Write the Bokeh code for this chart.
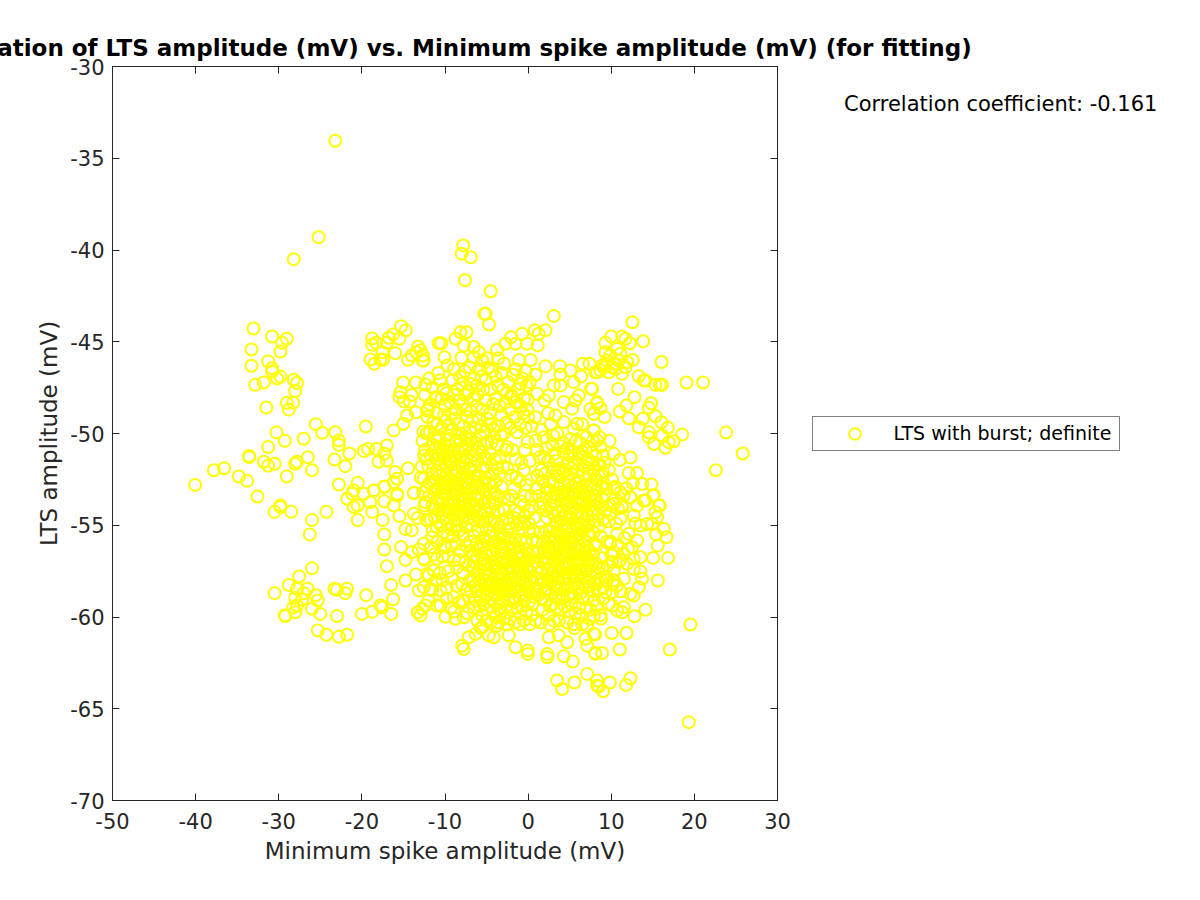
from bokeh.plotting import figure
from bokeh.models import LinearAxis, Label, Legend, LegendItem, FixedTicker, Range1d
from bokeh.embed import file_html
from bokeh.resources import INLINE

TITLE = "Correlation of LTS amplitude (mV) vs. Minimum spike amplitude (mV) (for fitting)"
X_LABEL = "Minimum spike amplitude (mV)"
Y_LABEL = "LTS amplitude (mV)"
CORR_TEXT = "Correlation coefficient: -0.161"
LEGEND_TEXT = "LTS with burst; definite"
X_TICKS = [-50, -40, -30, -20, -10, 0, 10, 20, 30]
Y_TICKS = [-70, -65, -60, -55, -50, -45, -40, -35, -30]

far_points = [(-23.2,-34.05),(-25.2,-39.3),(-28.2,-40.5),(-7.8,-39.75),(-8,-40.2),(-6.9,-40.4),(-7.6,-41.65),(-4.5,-42.25)]

upper_left = [(-33.04,-44.28),(-30.79,-44.71),(-29.03,-44.84),(-29.6,-45.06),(-29.8,-45.53),(-33.28,-45.42),(-33.28,-46.31),(-31.27,-46.07),(-30.8,-46.44),(-30.8,-46.62),(-30.2,-47.0),(-29.8,-46.9),(-32.84,-47.35),(-31.8,-47.22),(-28.2,-47.07),(-27.8,-47.25),(-28.03,-47.69),(-29.03,-48.33),(-28.27,-48.33),(-28.8,-48.7),(-31.5,-48.58),(-25.54,-49.49),(-24.78,-49.96),(-23.2,-49.93),(-22.77,-50.38),(-22.77,-50.62),(-19.53,-49.62),(-30.27,-49.94),(-29.27,-50.4),(-27.0,-50.29),(-31.27,-50.74),(-21.5,-51.09),(-33.56,-51.23),(-33.56,-51.29),(-31.8,-51.54),(-31.27,-51.76),(-30.5,-51.65),(-26.5,-51.3),(-27.8,-51.54),(-28.03,-51.65),(-23.3,-51.42),(-22.0,-51.78),(-26.0,-52.0),(-19.77,-50.96),(-19.25,-50.85),(-18.24,-50.85),(-37.8,-52.0),(-36.57,-51.89),(-34.8,-52.34),(-33.8,-52.58),(-40.06,-52.8),(-29.03,-52.34),(-22.77,-52.78),(-20.5,-52.69),(-32.56,-53.43)]

upper_left_cluster = [(-18.76,-44.82),(-18.76,-45.17),(-18.28,-45.06),(-17,-45.06),(-16.24,-44.6),(-16.76,-44.78),(-15.28,-44.15),(-14.72,-44.38),(-15.48,-44.84),(-17.52,-45.57),(-16,-45.62),(-18.96,-45.97),(-18.48,-46.2),(-17.76,-45.97),(-17.44,-45.98),(-14.44,-45.98),(-14,-45.75),(-13.23,-45.26),(-13.43,-45.57),(-12.67,-45.75),(-12.67,-46.02),(-10.75,-45.08),(-15.04,-47.22),(-13.5,-47.22),(-12.35,-47.33),(-15.48,-48.02),(-15.35,-47.75),(-14,-47.9),(-14.95,-48.25),(-14.23,-48.25),(-12,-48.65),(-10.95,-48.02),(-14.55,-49.02),(-13.5,-48.84),(-16.16,-49.83),(-15,-49.47),(-17,-50.65),(-17.3,-51.1),(-17,-51.47),(-18,-51.54),(-14.44,-51.89),(-16,-52.1),(-15.75,-52.47),(-16.16,-52.65),(-12.55,-52.47),(-13.75,-53.25),(-17.3,-52.89),(-18.56,-53.1),(-15.75,-53.29)]

lower_left = [(-29.8,-53.92),(-29.8,-54.01),(-30.5,-54.27),(-28.5,-54.27),(-24.26,-54.27),(-26,-54.72),(-26.26,-55.5),(-26,-57.34),(-27.55,-57.79),(-28.8,-58.25),(-30.5,-58.7),(-27.8,-58.46),(-26.54,-58.46),(-27,-58.7),(-25.54,-58.81),(-25.3,-59.1),(-28.03,-58.95),(-27.2,-59.06),(-27.8,-59.37),(-28.27,-59.48),(-26,-59.55),(-28,-59.74),(-25,-59.83),(-29.2,-59.95),(-29.27,-59.92),(-23.3,-58.46),(-23,-58.52),(-21.77,-58.46),(-22,-58.7),(-19.48,-58.81),(-23,-59.95),(-20,-59.83),(-18.76,-59.72),(-17.76,-59.37),(-17.56,-59.48),(-16.24,-59.03),(-16.48,-59.83),(-16.48,-58.25),(-25.3,-60.73),(-24.26,-60.97),(-22.77,-61.08),(-21.77,-60.97),(-17,-57.23),(-14.75,-58.01),(-13.5,-57.68),(-17.3,-56.32),(-17.3,-55.5),(-15.28,-56.19),(-14.75,-56.88),(-14,-56.47),(-13.15,-56.32),(-12.47,-56.88),(-17.5,-54.72),(-20.5,-54.72),(-18.76,-54.27),(-21,-54),(-20.5,-53.92),(-21.77,-53.56),(-21.17,-53.29),(-21,-53.1),(-19.77,-53.29),(-19,-53.74),(-18.5,-53.1),(-17.3,-53.69),(-17.3,-52.92),(-16.16,-53.92),(-15.75,-53.38),(-15.48,-54.5),(-13.75,-53.23),(-12.47,-53.92),(-13.75,-54.38),(-13.27,-54.6),(-12.23,-54.7),(-14.75,-55.2),(-14,-55.28),(-13.15,-58.55),(-12.55,-58.37),(-11.55,-58.55),(-12,-59.1),(-13.27,-59.74),(-12.75,-59.55),(-10.95,-59.37),(-11.95,-57.74),(-11.35,-57.47),(-10.95,-56.83),(-11.55,-55.65),(-12.55,-56)]

upper_center = [(-5.1,-43.48),(-5.25,-43.48),(-4.7,-44.06),(3.09,-43.59),(-10.46,-45.08),(-7.42,-44.48),(-8.14,-44.48),(-8.74,-44.84),(-7.74,-45.2),(-6.53,-45.29),(-5.93,-45.57),(-8.02,-45.87),(-10.06,-45.84),(-6.53,-45.84),(-5.53,-46.02),(-3.73,-45.44),(-2.04,-44.75),(-0.72,-44.57),(0.8,-44.38),(2.09,-44.38),(1.28,-44.57),(1.16,-45.2),(-2.73,-45.11),(-1.52,-45.11),(-0.12,-45.11),(2.09,-46.33),(3.81,-46.33),(3.89,-46.78),(5.09,-46.56),(6.58,-46.2),(7.38,-46.2),(6.38,-46.89),(8.1,-46.66),(8.7,-46.56),(7.58,-47.56),(5.49,-47.2),(3.09,-47.38),(3.89,-47.38),(1.08,-47.84),(-0.04,-48.15),(1.97,-48.2),(2.49,-47.93),(4.29,-48.29),(5.69,-48.2),(6.1,-47.93),(5.29,-48.65),(8.3,-48.29),(7.5,-48.65),(7.9,-48.93),(3.29,-49.02),(4.29,-49.38),(0.88,-49.11),(5.9,-49.47),(5.49,-49.74),(7.9,-49.83),(-0.04,-50.47),(-1.32,-49.93),(-2.53,-50.74),(7.3,-50.74),(7.7,-51.02),(-12.15,-48.74),(-11.15,-48.02),(-12.95,-45.47),(-12.55,-46.02)]

upper_right = [(12.55,-43.94),(13.84,-44.97),(9.99,-44.72),(11.31,-44.72),(11.71,-44.84),(12.23,-45.08),(9.3,-45.06),(12.59,-45.99),(16.04,-46.1),(13.31,-46.88),(13.92,-47.11),(14.12,-47.11),(15.32,-47.35),(15.84,-47.35),(16.12,-47.35),(19.05,-47.22),(21.05,-47.22),(10.83,-47.57),(12.79,-48.02),(11.83,-48.48),(11.03,-48.8),(12.11,-49.17),(14.8,-48.35),(14.52,-48.6),(15.32,-49.06),(13.8,-49.2),(13.31,-49.66),(16.04,-49.39),(16.8,-49.69),(18.53,-50.06),(17.52,-50.42),(23.82,-49.95),(25.82,-51.09),(22.58,-52),(14.52,-49.93),(14.52,-50.2),(15.12,-50.57),(16.12,-50.11),(16.52,-50.78),(16.92,-50.48),(10.31,-51.11),(11.03,-51.44),(12.31,-51.31),(12.11,-52.15),(13.11,-52.15),(13.72,-52.75),(14.84,-52.78),(15.12,-53.35),(13.92,-53.65),(15.72,-53.93),(11.51,-53.38),(12.31,-53.47),(10.51,-53.56),(11.31,-54.02),(13.11,-53.93),(8.7,-48.62),(8.3,-48.35),(7.9,-48.93),(7.7,-47.57),(7.9,-49.84),(8.3,-50.38),(8.7,-50.71),(9.02,-51.2),(9.3,-45.57),(10.7,-45.39),(9.9,-45.75),(11.11,-45.66),(9.1,-46.39),(9.7,-46.66),(10.31,-46.2),(10.51,-46.48),(11.31,-46.75),(11.71,-46.39),(8.3,-46.66),(10.91,-46.02),(9.5,-46.02),(10.11,-46.39),(8.9,-46.3),(11.91,-46.1)]

lower_right = [(15.04,-53.38),(15.84,-53.93),(15.32,-54.29),(15.52,-54.56),(16.32,-55.2),(16.64,-55.65),(15.4,-55.51),(15.6,-56.11),(15.04,-56.78),(16.84,-56.78),(15.6,-58.01),(13.51,-57.52),(13.71,-57.92),(13.31,-58.38),(12.71,-58.83),(14.12,-59.6),(12.79,-59.96),(19.53,-60.41),(17.04,-61.77),(11.83,-60.87),(10.07,-60.87),(8.06,-60.96),(11.03,-61.77),(8.9,-61.96),(8.06,-61.96),(12.31,-63.34),(11.79,-63.7),(9.83,-63.57),(8.3,-63.46),(9.02,-64.05),(8.5,-63.79),(19.33,-65.73),(11.31,-59.74),(10.71,-59.65),(10.11,-59.38),(11.51,-59.47),(8.78,-60.1),(7.9,-59.92),(12.31,-58.74),(10.11,-58.65),(9.3,-58.65),(11.51,-57.92),(10.31,-58.0),(12.71,-57.38),(13.51,-56.74),(12.71,-56.83),(11.51,-56.56),(10.31,-56.47),(9.9,-56.02),(10.91,-57),(10.31,-57.47),(8.7,-57.92),(13.11,-55.83),(12.51,-56.2),(10.71,-55.47),(12.11,-55.47),(13.51,-55.02),(14.32,-54.93),(14.92,-54.93),(12.71,-54.47),(11.11,-54.65),(9.9,-54.38),(11.31,-53.93),(10.31,-53.84),(12.31,-53.47),(14.12,-53.65)]

lower_center = [(-7.94,-61.56),(-7.74,-61.74),(-7.14,-61.1),(-6.33,-60.92),(-5.53,-60.56),(-9.94,-59.98),(-8.74,-60.1),(-3.73,-60.47),(-4.13,-61.1),(-4.73,-61),(-2.33,-61),(-1.52,-61.65),(-0.04,-61.83),(-0.04,-62.01),(2.29,-62.01),(2.29,-62.19),(4.29,-62.14),(5.37,-62.43),(4.69,-61.38),(3.69,-61),(2.49,-61.1),(5.57,-60.61),(6.9,-61.19),(7.1,-61.56),(7.9,-60.92),(8.1,-62),(7.1,-63.1),(5.57,-63.57),(3.49,-63.46),(4.09,-63.92),(8.3,-63.74),(-12.95,-59.92),(-12.35,-59.38),(-10.54,-59.38),(-7.74,-60.01),(-11.75,-58.47),(-12.15,-57.65),(-12.55,-56.83),(-10.54,-58.56),(-8.94,-58.92),(-7.94,-58.2),(-7.14,-58.92),(-6.33,-58.29),(-12.35,-53.75),(-12.15,-54.74),(-10.54,-53.84),(-9.74,-54.2),(-10.14,-55.38)]

core_left = [(-11.9,-47.0),(-10.8,-46.7),(-9.7,-46.3),(-9.1,-47.1),(-10.2,-47.6),(-11.4,-49.4),(-12.6,-49.9),(-11.2,-50.2),(-10.1,-49.0),(-9.4,-48.3),(-8.5,-47.6),(-7.6,-46.6),(-6.9,-47.3),(-7.9,-48.4),(-8.8,-49.2),(-9.7,-50.1),(-10.6,-50.8),(-11.7,-51.2),(-12.4,-50.9),(-12.8,-51.8),(-11.6,-52.2),(-10.5,-51.7),(-9.6,-51.0),(-8.7,-50.4),(-7.8,-49.6),(-6.9,-48.8),(-6.1,-47.9),(-5.5,-48.7),(-6.3,-49.7),(-7.2,-50.6),(-8.1,-51.3),(-9.2,-52.0),(-10.2,-52.7),(-11.2,-53.1),(-9.9,-53.4),(-8.9,-52.8),(-7.9,-52.2),(-6.9,-51.5),(-6.0,-50.8),(-5.2,-49.9),(-4.6,-48.9),(-5.1,-47.1),(-4.3,-46.6),(-3.6,-47.4),(-3.9,-48.1),(-3.2,-49.0),(-4.1,-50.2),(-5.0,-51.4),(-5.9,-52.3),(-6.8,-53.0),(-7.8,-53.6),(-8.8,-54.2),(-9.6,-54.9),(-8.3,-55.3),(-7.2,-54.6),(-6.2,-53.9),(-5.3,-53.1),(-4.3,-52.2),(-3.4,-51.3),(-2.5,-51.9),(-3.2,-52.9),(-4.1,-53.8),(-5.0,-54.6),(-6.0,-55.3),(-7.0,-55.9),(-8.1,-56.4),(-9.2,-56.1),(-10.3,-56.7),(-11.2,-54.6),(-11.7,-56.2),(-10.6,-57.6),(-9.6,-57.5),(-8.6,-57.3),(-7.5,-57.0),(-6.6,-56.7),(-5.6,-56.2),(-4.6,-55.6),(-3.7,-54.9),(-2.8,-54.2),(-2.0,-53.4),(-1.4,-52.4),(-2.6,-47.8),(-1.8,-46.8),(-2.9,-46.2),(-3.6,-45.9),(-1.1,-46.0),(-0.3,-46.6),(-1.2,-47.6),(-2.2,-48.7),(-1.6,-49.1),(-0.6,-48.9),(-0.2,-47.4)]

core_center = [(-6.1,-57.7),(-5.2,-57.2),(-4.3,-56.6),(-3.4,-56.0),(-2.5,-55.3),(-1.7,-54.6),(-0.9,-53.7),(-0.2,-52.8),(-0.8,-51.6),(-1.9,-50.9),(0.2,-51.5),(0.9,-50.4),(1.6,-49.8),(2.4,-48.9),(2.9,-50.6),(1.9,-51.3),(1.1,-52.3),(0.4,-53.4),(-0.4,-54.5),(-1.2,-55.4),(-2.1,-56.3),(-3.0,-57.0),(-3.9,-57.7),(-4.8,-58.3),(-5.7,-58.9),(-6.5,-59.5),(-5.5,-59.9),(-4.6,-59.4),(-3.7,-58.8),(-2.8,-58.1),(-1.9,-57.5),(-1.0,-56.7),(-0.2,-55.9),(0.6,-55.3),(-0.5,-57.6),(-1.4,-58.4),(-2.3,-59.1),(-3.2,-59.7),(-2.2,-60.1),(-1.3,-59.5),(-0.4,-58.8),(0.4,-58.1),(1.2,-57.3),(1.9,-56.5),(2.7,-55.7),(1.4,-55.4),(2.3,-54.6),(3.2,-53.7),(3.9,-52.8),(2.6,-52.6),(3.4,-51.5),(4.2,-50.5),(5.0,-51.2),(4.6,-52.0),(5.4,-52.9),(4.7,-53.9),(3.9,-54.8),(3.2,-55.6),(2.4,-56.4),(1.6,-58.0),(0.7,-58.9),(-0.2,-59.7),(0.9,-60.2),(1.8,-59.6),(2.7,-58.8),(3.5,-58.1),(4.2,-57.3),(4.9,-56.5),(5.6,-55.7),(6.3,-54.9),(6.9,-54.0),(6.1,-53.2),(6.7,-52.2),(7.3,-51.9),(5.8,-50.4),(6.5,-49.5)]

core_right = [(3.1,-56.9),(3.8,-56.1),(4.5,-55.3),(5.2,-54.6),(5.9,-56.6),(6.6,-55.8),(7.3,-55.0),(7.9,-54.2),(8.3,-53.1),(7.6,-52.8),(8.9,-52.3),(9.4,-53.0),(8.7,-54.0),(8.0,-56.0),(7.2,-56.9),(6.4,-57.6),(5.6,-58.2),(4.8,-58.9),(4.0,-59.6),(3.1,-60.2),(5.7,-59.8),(6.6,-59.0),(7.4,-58.3),(8.1,-57.6),(8.9,-56.8),(9.4,-57.8),(9.0,-59.0),(8.2,-59.4),(7.4,-60.1),(6.5,-60.4),(4.7,-60.3),(2.4,-59.9),(3.3,-58.9),(4.1,-57.9),(5.0,-57.2),(5.8,-57.1),(3.5,-55.4),(4.2,-56.7),(2.9,-57.6),(2.0,-58.5),(6.0,-55.2),(6.8,-56.5),(5.3,-55.9),(4.5,-54.4),(3.7,-53.0),(2.2,-53.5),(1.4,-54.0),(0.7,-54.6),(-0.1,-56.9),(0.5,-56.4),(9.8,-50.4),(9.2,-49.1),(9.7,-52.0),(8.6,-51.7),(6.5,-51.0),(7.9,-53.0),(6.0,-52.0),(9.5,-55.9),(8.5,-55.1),(10.1,-57.0)]

dense_a = [(-12.1,-49.1),(-11.0,-48.9),(-9.9,-49.3),(-8.6,-48.7),(-7.3,-49.1),(-6.2,-48.5),(-12.7,-50.4),(-11.8,-49.9),(-10.7,-50.2),(-9.2,-49.8),(-8.2,-50.0),(-7.0,-49.9),(-5.8,-50.1),(-4.9,-50.5),(-12.2,-51.4),(-11.1,-50.8),(-10.0,-50.6),(-9.0,-51.2),(-8.0,-50.8),(-6.7,-50.9),(-5.6,-51.0),(-4.5,-51.1),(-12.9,-52.4),(-12.0,-51.8),(-11.0,-51.4),(-10.1,-51.3),(-9.4,-51.6),(-8.4,-51.7),(-7.4,-51.3),(-6.4,-51.8),(-5.4,-51.9),(-4.4,-51.7),(-3.7,-51.9),(-12.2,-52.9),(-11.4,-52.6),(-10.7,-52.3),(-9.8,-52.2),(-8.9,-52.3),(-8.2,-52.5),(-7.3,-52.4),(-6.5,-52.6),(-5.5,-52.7),(-4.7,-52.7),(-3.9,-52.6),(-11.9,-53.4),(-10.9,-53.6),(-10.4,-53.2),(-9.5,-52.9),(-8.5,-53.2),(-7.6,-53.0),(-7.0,-53.4),(-6.0,-53.3),(-5.0,-53.5),(-4.5,-53.2),(-3.6,-53.4),(-11.3,-54.1),(-10.1,-54.6),(-9.3,-53.8),(-8.4,-53.9),(-7.4,-54.1),(-6.6,-54.2),(-5.6,-54.4),(-4.6,-54.1),(-3.6,-54.2),(-2.9,-53.5),(-11.0,-55.1),(-9.7,-55.6),(-8.9,-54.7),(-7.9,-54.8),(-6.8,-55.0),(-5.8,-54.8),(-5.0,-55.2),(-4.1,-54.8),(-3.1,-54.7),(-9.0,-55.6),(-7.8,-55.6),(-6.5,-55.6),(-5.4,-55.7),(-4.2,-55.3),(-3.3,-55.5),(-10.4,-48.1),(-8.9,-47.9),(-7.6,-47.9),(-6.5,-47.0),(-5.4,-47.6),(-4.5,-47.6),(-8.2,-46.9),(-7.0,-46.4),(-5.9,-46.5),(-4.9,-45.9),(-4.1,-49.8),(-3.3,-50.1),(-2.6,-49.4),(-5.1,-48.2),(-3.0,-47.6),(-2.0,-47.9),(-0.9,-47.3),(-1.5,-48.3),(-0.5,-48.1),(0.3,-46.0),(0.9,-46.8),(0.4,-49.6),(-0.3,-49.7)]

dense_b = [(-7.0,-56.4),(-6.0,-56.3),(-5.1,-56.5),(-4.2,-56.1),(-3.3,-56.6),(-2.5,-56.1),(-1.6,-55.8),(-0.7,-55.2),(0.1,-54.9),(-6.7,-57.3),(-5.7,-57.1),(-4.7,-57.0),(-3.8,-56.9),(-2.9,-56.5),(-2.0,-56.8),(-1.1,-56.2),(-0.3,-56.3),(0.5,-55.8),(-7.0,-58.0),(-6.4,-58.3),(-5.5,-57.9),(-4.6,-57.7),(-3.5,-57.3),(-2.6,-57.4),(-1.7,-57.0),(-0.8,-57.1),(0.1,-56.6),(0.8,-57.0),(-6.9,-58.6),(-6.0,-58.6),(-5.2,-58.5),(-4.3,-58.1),(-3.4,-58.0),(-2.4,-57.9),(-1.5,-57.8),(-0.6,-58.1),(0.2,-57.5),(1.1,-57.9),(-6.3,-59.1),(-5.4,-59.3),(-4.9,-58.8),(-4.0,-58.8),(-3.1,-58.5),(-2.1,-58.6),(-1.1,-58.9),(-0.1,-58.4),(0.9,-58.4),(-4.2,-59.7),(-3.4,-59.2),(-2.6,-59.4),(-1.7,-59.2),(-0.8,-59.4),(0.1,-59.2),(-5.0,-60.2),(-3.9,-60.0),(-2.9,-60.1),(-1.6,-60.3),(-0.5,-60.2),(0.4,-59.9),(-6.1,-60.2),(-7.3,-59.8),(-8.3,-59.2),(-9.3,-59.5),(-8.6,-58.3),(-9.8,-58.4),(-7.8,-57.6),(-8.9,-56.9),(-9.9,-56.2),(-2.4,-55.7),(-1.4,-55.0),(-0.5,-54.9),(-2.3,-54.9),(-1.1,-54.3),(-2.4,-53.6),(-1.7,-53.0),(-1.0,-52.6),(-2.0,-52.3),(-3.0,-51.8),(-0.4,-53.4),(0.3,-52.5),(-0.5,-52.0),(-1.5,-51.4),(-0.4,-50.9)]

dense_c = [(1.0,-53.0),(1.8,-52.6),(2.7,-53.1),(3.5,-52.3),(4.4,-52.8),(5.2,-52.2),(6.1,-52.6),(7.0,-52.5),(7.9,-52.0),(8.8,-52.9),(1.7,-53.8),(2.7,-53.9),(3.5,-53.4),(4.3,-53.6),(5.2,-53.4),(6.0,-53.8),(6.8,-53.3),(7.6,-53.6),(8.4,-53.8),(9.3,-54.2),(2.9,-54.3),(3.7,-54.3),(4.6,-54.9),(5.5,-54.1),(6.4,-54.4),(7.2,-54.5),(8.0,-54.8),(8.7,-55.6),(2.2,-55.3),(3.0,-55.1),(3.9,-55.5),(4.9,-55.1),(5.7,-55.0),(6.6,-55.3),(7.5,-55.6),(1.8,-55.9),(2.6,-56.2),(3.4,-56.3),(4.3,-56.1),(5.1,-56.0),(6.1,-56.1),(7.1,-56.2),(7.8,-56.6),(1.2,-56.5),(2.0,-57.0),(2.8,-57.2),(3.6,-57.3),(4.6,-57.6),(5.5,-57.6),(6.2,-56.9),(7.0,-57.5),(7.8,-57.1),(8.5,-57.3),(1.5,-57.6),(2.4,-57.9),(3.1,-58.3),(3.9,-58.5),(4.6,-58.2),(5.2,-58.7),(6.0,-58.4),(6.9,-58.4),(7.8,-58.6),(8.6,-58.5),(1.2,-58.8),(2.1,-59.1),(2.9,-59.3),(3.7,-59.0),(4.4,-59.4),(5.2,-59.3),(6.1,-59.5),(7.0,-59.5),(7.9,-59.1),(1.5,-60.3),(2.6,-60.4),(3.7,-60.2),(5.5,-60.4),(7.1,-60.5),(1.1,-50.9),(1.9,-50.2),(2.7,-49.5),(3.5,-50.0),(4.3,-51.0),(5.1,-50.3),(6.2,-50.5),(7.0,-50.2),(1.6,-52.0),(2.4,-51.5),(3.2,-51.1),(3.9,-51.9),(4.8,-51.7),(5.6,-51.6),(6.4,-51.3),(7.2,-51.4),(8.1,-51.2),(9.2,-51.6),(10.1,-52.5),(10.3,-53.0),(9.8,-53.9),(10.6,-54.9),(9.9,-55.9),(10.8,-56.1),(11.6,-55.7),(9.6,-57.2),(10.2,-58.2),(9.7,-59.3),(8.7,-59.9),(11.8,-53.0),(12.6,-52.7),(12.9,-54.9),(11.9,-57.1),(11.1,-58.6)]

dense_d = [(-12.4,-47.9),(-11.5,-47.5),(-10.6,-47.1),(-9.8,-47.8),(-8.9,-46.5),(-8.0,-47.3),(-7.2,-47.7),(-6.2,-47.4),(-5.6,-46.9),(-4.8,-46.4),(-3.9,-46.9),(-3.2,-46.7),(-2.4,-47.2),(-1.5,-46.5),(-0.7,-47.0),(0.2,-47.2),(-11.8,-48.4),(-10.9,-49.5),(-10.0,-48.5),(-9.2,-48.9),(-8.3,-48.2),(-7.5,-48.7),(-6.6,-48.1),(-5.9,-49.2),(-4.9,-49.2),(-4.2,-48.4),(-3.4,-48.5),(-2.7,-48.3),(-1.9,-48.0),(-0.9,-48.5),(-0.1,-48.7),(-12.2,-50.0),(-10.4,-49.7),(-9.5,-49.5),(-8.4,-49.5),(-7.6,-50.2),(-6.7,-49.3),(-5.6,-49.6),(-4.5,-49.5),(-3.6,-49.6),(-2.9,-50.0),(-2.1,-49.7),(-1.0,-49.5),(0.0,-49.1),(-3.7,-50.6),(-2.7,-50.9),(-4.4,-50.5)]

dense_e = [(-12.5,-51.2),(-11.5,-50.6),(-10.4,-51.0),(-9.3,-50.7),(-8.4,-51.0),(-7.6,-50.9),(-6.3,-50.5),(-5.3,-50.6),(-11.9,-52.7),(-11.0,-52.0),(-10.3,-52.0),(-9.6,-52.5),(-8.6,-52.7),(-7.9,-51.8),(-7.0,-52.0),(-6.1,-51.5),(-5.2,-51.3),(-4.0,-51.4),(-12.6,-53.2),(-11.5,-53.9),(-11.0,-53.0),(-10.0,-53.0),(-9.1,-53.3),(-8.1,-53.4),(-7.2,-52.7),(-6.2,-52.9),(-5.1,-52.4),(-4.3,-52.9),(-3.4,-52.2),(-11.7,-54.7),(-10.7,-54.2),(-9.9,-54.0),(-9.0,-54.4),(-8.1,-54.4),(-7.1,-53.8),(-6.3,-53.4),(-5.3,-53.8),(-4.7,-53.7),(-3.9,-53.3),(-3.0,-54.1),(-11.5,-55.3),(-10.5,-55.0),(-9.3,-55.2),(-8.6,-55.0),(-7.5,-55.1),(-6.4,-54.7),(-5.4,-54.8),(-4.5,-54.7),(-3.5,-55.1),(-2.5,-54.6),(-10.9,-55.9),(-10.1,-56.1),(-8.6,-56.0),(-7.5,-56.1),(-6.2,-56.0),(-4.9,-55.9),(-3.9,-55.9),(-2.9,-55.7),(-11.3,-56.6),(-9.6,-56.7),(-8.3,-56.9),(-7.2,-57.2),(-9.2,-57.9),(-10.3,-58.0),(-11.1,-58.0),(-7.9,-59.1),(-8.9,-59.7),(-9.8,-59.0),(-7.4,-58.5)]

dense_f = [(-6.5,-57.0),(-5.4,-56.8),(-4.9,-57.4),(-4.0,-57.3),(-3.1,-57.7),(-2.2,-57.2),(-1.3,-57.3),(-0.4,-57.0),(0.4,-57.2),(-6.6,-58.0),(-5.9,-58.0),(-5.0,-58.0),(-4.1,-58.4),(-3.7,-57.9),(-2.9,-57.8),(-2.0,-58.2),(-1.0,-57.9),(-0.2,-57.8),(0.7,-57.8),(-5.7,-58.3),(-4.6,-58.6),(-3.6,-58.4),(-2.6,-58.6),(-1.7,-58.5),(-0.8,-58.5),(0.3,-58.7),(1.1,-58.6),(-5.8,-59.4),(-5.0,-59.6),(-4.4,-59.0),(-3.5,-59.6),(-3.0,-59.1),(-2.0,-59.6),(-1.5,-59.0),(-0.5,-59.1),(0.5,-59.3),(-3.6,-60.3),(-2.5,-60.4),(-1.0,-60.4),(0.2,-60.4),(-4.5,-60.3),(-5.7,-60.6),(-3.2,-56.2),(-1.9,-56.0),(-0.9,-55.8),(0.2,-55.4),(1.0,-55.9),(-2.0,-55.2),(-0.9,-54.8),(0.1,-54.2),(-1.6,-54.2),(-0.5,-53.9),(0.5,-54.0)]

dense_g = [(1.3,-53.4),(2.2,-53.0),(3.0,-52.7),(4.0,-53.2),(4.9,-52.6),(5.7,-52.7),(6.5,-52.9),(7.4,-52.3),(8.2,-52.5),(9.1,-52.7),(2.1,-54.2),(2.8,-53.5),(3.9,-53.7),(4.8,-53.2),(5.6,-53.3),(6.4,-53.7),(7.2,-53.2),(8.1,-53.4),(8.9,-53.5),(3.4,-54.8),(4.2,-54.2),(5.0,-54.3),(5.9,-54.5),(6.7,-54.8),(7.6,-54.2),(8.4,-54.4),(9.0,-54.7),(2.6,-55.3),(3.5,-54.9),(4.4,-55.6),(5.3,-55.3),(6.2,-55.5),(7.0,-55.1),(7.9,-55.4),(2.2,-56.0),(3.0,-55.9),(3.9,-56.6),(4.7,-56.2),(5.6,-56.3),(6.5,-56.3),(7.4,-56.4),(8.2,-56.1),(1.6,-56.9),(2.4,-56.8),(3.3,-56.5),(4.1,-57.2),(4.9,-57.0),(5.7,-56.9),(6.5,-57.2),(7.4,-57.2),(8.2,-57.1),(9.0,-57.3),(1.9,-58.1),(2.8,-57.8),(3.6,-57.8),(4.3,-58.0),(5.0,-57.9),(5.9,-57.8),(6.7,-57.9),(7.6,-57.8),(8.4,-58.0),(2.4,-58.5),(3.4,-58.5),(4.2,-58.8),(5.5,-58.9),(6.3,-58.7),(7.2,-58.9),(8.0,-58.2),(9.0,-58.4),(1.7,-59.0),(2.6,-59.4),(3.4,-59.5),(4.9,-59.7),(6.4,-59.9),(7.5,-59.6),(1.4,-51.3),(2.2,-50.8),(3.0,-50.1),(3.9,-50.7),(4.7,-50.8),(5.4,-51.0),(6.1,-51.1),(6.9,-50.9),(7.8,-50.4),(8.6,-50.2),(2.0,-52.2),(2.9,-51.9),(3.6,-52.0),(4.3,-52.1),(5.2,-51.9),(6.0,-51.4),(6.8,-51.8),(7.6,-51.6),(8.4,-51.7),(9.0,-52.1),(10.5,-52.9),(11.1,-53.2),(10.8,-54.1),(9.7,-54.8),(10.0,-56.6),(11.1,-56.9),(12.0,-56.3),(10.7,-58.3),(9.4,-58.0)]

dense_h = [(-10.9,-50.4),(-10.2,-50.9),(-9.5,-50.3),(-8.9,-50.9),(-8.1,-50.4),(-7.4,-50.3),(-6.9,-50.3),(-10.7,-51.2),(-9.9,-51.8),(-9.2,-51.5),(-8.6,-51.3),(-7.7,-51.5),(-7.1,-51.9),(-6.6,-51.2),(-10.6,-52.8),(-9.9,-52.6),(-9.3,-52.5),(-8.7,-52.1),(-8.0,-52.9),(-7.5,-52.7),(-6.9,-52.5),(-6.2,-52.3),(-10.5,-53.5),(-9.7,-53.8),(-9.0,-53.6),(-8.3,-53.7),(-7.6,-53.9),(-6.9,-53.8),(-6.4,-54.0),(-5.7,-53.6),(-10.2,-54.2),(-9.4,-54.3),(-8.7,-54.1),(-7.9,-54.3),(-7.2,-54.2),(-6.1,-54.5),(-5.2,-54.3),(-6.1,-56.7),(-5.3,-56.1),(-4.6,-56.4),(-3.9,-56.3),(-3.0,-56.2),(-2.2,-56.6),(-1.4,-56.5),(-0.6,-56.6),(-5.9,-57.5),(-5.2,-57.6),(-4.4,-57.2),(-3.3,-57.0),(-2.5,-57.0),(-1.8,-57.3),(-0.9,-57.5),(-0.1,-57.3),(-5.3,-58.2),(-4.5,-58.1),(-3.8,-58.2),(-3.1,-58.2),(-2.3,-58.3),(-1.2,-58.2),(-0.3,-58.2),(2.4,-55.7),(3.3,-55.8),(4.1,-55.8),(4.9,-55.7),(5.8,-55.6),(6.5,-55.0),(7.2,-55.5),(2.1,-56.4),(2.9,-56.6),(3.6,-56.8),(4.5,-56.5),(5.3,-56.6),(6.2,-56.4),(7.0,-56.7),(2.3,-57.4),(3.2,-57.5),(3.9,-57.5),(4.7,-57.3),(5.5,-57.4),(6.3,-57.4),(7.2,-57.4),(2.7,-58.1),(3.5,-58.3),(4.8,-58.4),(5.6,-58.0),(6.5,-58.2),(7.3,-58.1),(3.2,-54.5),(4.0,-54.6),(4.9,-54.6),(5.7,-54.3),(6.4,-53.9),(7.1,-53.8),(3.1,-53.3),(4.3,-53.3),(5.0,-53.7),(5.9,-53.0),(6.6,-53.6),(7.4,-53.5),(8.2,-53.6)]

points = (far_points + upper_left + upper_left_cluster + lower_left + upper_center
          + upper_right + lower_right + lower_center + core_left + core_center + core_right
          + dense_a + dense_b + dense_c + dense_d + dense_e + dense_f + dense_g + dense_h)
spike_amp = [pt[0] for pt in points]
lts_amp = [pt[1] for pt in points]

TEXT = "#262626"
p = figure(width=1192, height=892,
           x_range=Range1d(-50, 30), y_range=Range1d(-70, -30),
           output_backend="svg", toolbar_location=None,
           min_border_left=112, min_border_top=66, min_border_right=415, min_border_bottom=92,
           title=TITLE)
p.title.align = "center"
p.title.text_font = "DejaVu Sans"
p.title.text_font_size = "23px"
p.title.text_color = "black"
p.title.standoff = 12
p.grid.visible = False
p.outline_line_color = "black"
p.outline_line_width = 1

for ax, ticks in ((p.xaxis[0], X_TICKS), (p.yaxis[0], Y_TICKS)):
    ax.ticker = FixedTicker(ticks=ticks)
    ax.major_label_overrides = {t: str(t) for t in ticks}
    ax.major_tick_in = 7
    ax.major_tick_out = 0
    ax.minor_tick_in = 0
    ax.minor_tick_out = 0
    ax.axis_line_color = "#262626"
    ax.major_tick_line_color = "#262626"
    ax.major_label_text_font = "DejaVu Sans"
    ax.major_label_text_font_size = "21px"
    ax.major_label_text_color = TEXT
    ax.axis_label_text_font = "DejaVu Sans"
    ax.axis_label_text_font_size = "23px"
    ax.axis_label_text_font_style = "normal"
    ax.axis_label_text_color = TEXT
p.xaxis[0].axis_label = X_LABEL
p.yaxis[0].axis_label = Y_LABEL
p.xaxis[0].major_label_standoff = 12
p.yaxis[0].major_label_standoff = 8
p.xaxis[0].axis_label_standoff = 6
p.yaxis[0].axis_label_standoff = 5

for side, ticks in (("above", X_TICKS), ("right", Y_TICKS)):
    extra = LinearAxis(ticker=FixedTicker(ticks=ticks), major_tick_in=7, major_tick_out=0,
                       minor_tick_in=0, minor_tick_out=0,
                       major_label_overrides={t: "" for t in ticks},
                       major_label_standoff=0, axis_line_color="#262626", major_tick_line_color="#262626")
    p.add_layout(extra, side)

MARKER = dict(marker="circle", size=12, fill_color=None, line_color="#ffff00", line_width=2)
p.scatter(spike_amp, lts_amp, **MARKER)

# Side figure, transparent, laid over the right part of the page: its frame is its whole
# canvas, so that the legend and the text beside the plot are not clipped.
q = figure(width=400, height=892, x_range=Range1d(0, 1), y_range=Range1d(0, 1),
           output_backend="svg", toolbar_location=None,
           x_axis_location=None, y_axis_location=None, min_border=0,
           background_fill_color=None, border_fill_color=None, outline_line_color=None)
q.grid.visible = False
q.styles = {"position": "absolute", "left": "790px", "top": "0px"}
key = q.scatter([2], [2], **MARKER)
legend = Legend(items=[LegendItem(label=LEGEND_TEXT, renderers=[key])], location=(21.5, 441.5),
                margin=0, padding=2, glyph_width=79, glyph_height=29, label_standoff=0, label_width=223,
                label_text_font="DejaVu Sans", label_text_font_size="19px", label_text_color="black",
                border_line_color="black", border_line_width=1, background_fill_color="white",
                background_fill_alpha=1)
q.add_layout(legend, "center")
corr = Label(x=53.5, y=789, x_units="screen", y_units="screen", text=CORR_TEXT,
             text_font="DejaVu Sans", text_font_size="21px", text_color="black",
             text_baseline="middle")
q.add_layout(corr)

open("out.html", "w").write(file_html([p, q], INLINE))
